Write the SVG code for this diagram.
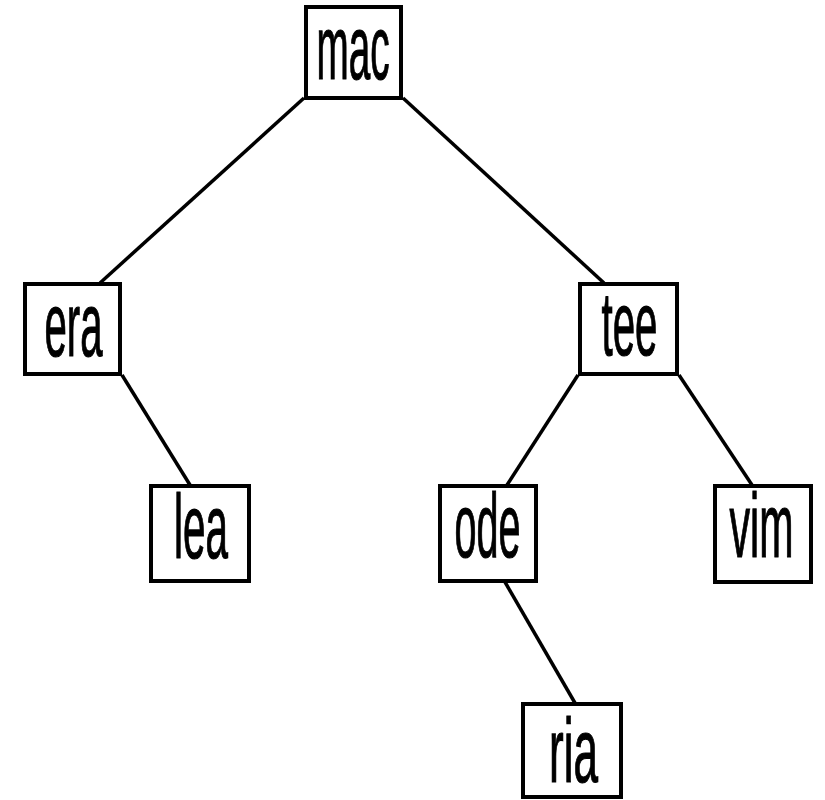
<svg xmlns="http://www.w3.org/2000/svg" width="825" height="800" viewBox="0 0 825 800">
  <style>
    .edge { stroke: #000; stroke-width: 3.5; fill: none; }
    .box { fill: #fff; stroke: #000; stroke-width: 4; }
    .lbl { font-family: "Liberation Sans", Arial, sans-serif; font-size: 90px; fill: #000; stroke: #000; stroke-width: 1.2; text-anchor: middle; }
  </style>
  <rect width="825" height="800" fill="#fff"/>

  <!-- tree edges -->
  <g id="connectors">
    <line class="edge" x1="304" y1="98" x2="100" y2="283"/>
    <line class="edge" x1="403" y1="98" x2="604" y2="283"/>
    <line class="edge" x1="122" y1="375" x2="190" y2="485"/>
    <line class="edge" x1="578" y1="375" x2="507" y2="485"/>
    <line class="edge" x1="679" y1="375" x2="752" y2="485"/>
    <line class="edge" x1="505" y1="582" x2="575" y2="703"/>
  </g>

  <g id="mac">
    <rect class="box" x="306" y="7" width="95" height="91"/>
    <text class="lbl" x="353" y="79" textLength="73" lengthAdjust="spacingAndGlyphs">mac</text>
  </g>
  <g id="era">
    <rect class="box" x="25" y="284" width="95" height="90"/>
    <text class="lbl" x="73.5" y="356" textLength="58" lengthAdjust="spacingAndGlyphs">era</text>
  </g>
  <g id="lea">
    <rect class="box" x="151" y="486" width="98" height="95"/>
    <text class="lbl" x="201" y="558" textLength="54" lengthAdjust="spacingAndGlyphs">lea</text>
  </g>
  <g id="tee">
    <rect class="box" x="580" y="284" width="97" height="90"/>
    <text class="lbl" x="629.5" y="355" textLength="56" lengthAdjust="spacingAndGlyphs">tee</text>
  </g>
  <g id="ode">
    <rect class="box" x="440" y="486" width="96" height="95"/>
    <text class="lbl" x="487.5" y="557" textLength="66" lengthAdjust="spacingAndGlyphs">ode</text>
  </g>
  <g id="vim">
    <rect class="box" x="715" y="486" width="96" height="96"/>
    <text class="lbl" x="761.5" y="557" textLength="64" lengthAdjust="spacingAndGlyphs">vim</text>
  </g>
  <g id="ria">
    <rect class="box" x="523" y="704" width="98" height="93"/>
    <text class="lbl" x="573.5" y="782" textLength="49" lengthAdjust="spacingAndGlyphs">ria</text>
  </g>
</svg>
